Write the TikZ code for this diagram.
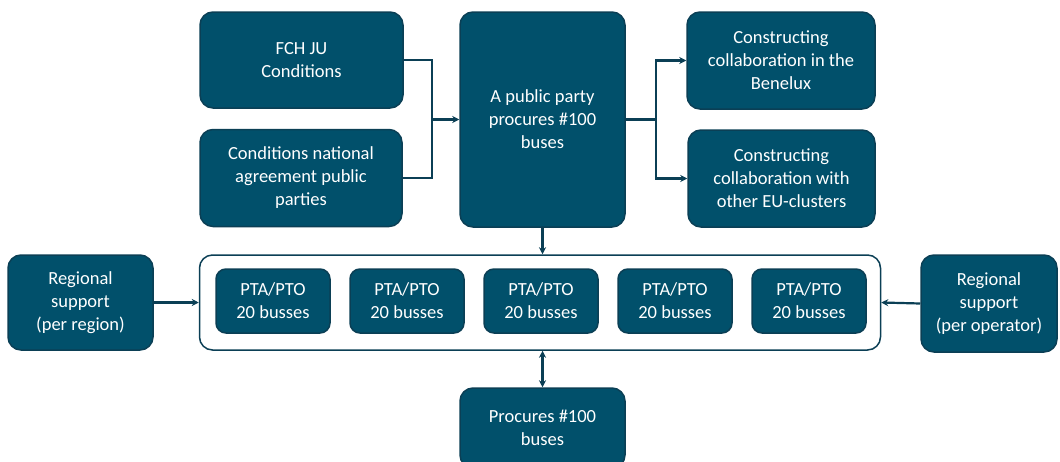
\documentclass[tikz,border=0pt]{standalone}
\usepackage{fontspec}
\setmainfont{Carlito}
\usetikzlibrary{arrows.meta}
\definecolor{boxfill}{HTML}{01506B}
\definecolor{boxline}{HTML}{0B3F55}

\begin{document}
\begin{tikzpicture}[>={Stealth[length=7pt,width=7pt]},x=1pt,y=-1pt,
    box/.style={draw=boxline,line width=1.5pt,fill=boxfill,rounded corners=13pt,
        text=white,align=center,inner sep=0pt,
        font=\fontsize{18.5}{23}\selectfont},
    small/.style={box,rounded corners=10pt,minimum width=114pt,minimum height=64pt},
    link/.style={draw=boxline,line width=2.2pt}]
\useasboundingbox (0,0) rectangle (1060,461);
% top row
\node[box,minimum width=203pt,minimum height=96pt] (fch) at (301.5,60) {FCH JU\\Conditions};
\node[box,minimum width=202pt,minimum height=97pt] (cond) at (301,178) {Conditions national\\agreement public\\parties};
\node[box,minimum width=165pt,minimum height=215pt] (pub) at (542.5,119.5) {A public party\\procures \#100\\buses};
\node[box,minimum width=188pt,minimum height=97pt] (bene) at (781,60.5) {Constructing\\collaboration in the\\Benelux};
\node[box,minimum width=187pt,minimum height=97pt] (eu) at (781.5,178.5) {Constructing\\collaboration with\\other EU-clusters};
% middle row
\node[box,minimum width=145pt,minimum height=95pt] (regl) at (80.5,302.5) {Regional\\support\\(per region)};
\node[box,fill=white,minimum width=681pt,minimum height=95pt] (cont) at (540,302.5) {};
\foreach \i in {0,...,4}
    \node[small] (pta\i) at (273+134*\i,301) {PTA/PTO\\20 busses};
\node[box,minimum width=136pt,minimum height=97pt] (regr) at (989,303.5) {Regional\\support\\(per operator)};
% bottom
\node[box,minimum width=165pt,minimum height=80pt] (proc) at (542.5,428) {Procures \#100\\buses};
% connectors
\coordinate (jl) at (432,119.5);
\coordinate (jr) at (656,119.5);
\draw[link] (fch.east) -| (jl);
\draw[link] (cond.east) -| (jl);
\draw[link,->] (jl) -- (pub.west);
\draw[link] (pub.east) -- (jr);
\draw[link,->] (jr) |- (bene.west);
\draw[link,->] (jr) |- (eu.west);
\draw[link,->] (pub.south) -- (pub.south |- cont.north);
\draw[link,<->] (proc.north |- cont.south) -- (proc.north);
\draw[link,->] (regl.east) -- (cont.west);
\draw[link,->] (regr.west) -- (cont.east);
\end{tikzpicture}
\end{document}
